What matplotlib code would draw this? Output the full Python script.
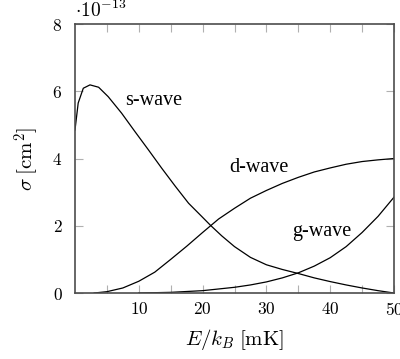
import matplotlib.pyplot as plt
import numpy as np

plt.rcParams['mathtext.fontset'] = 'cm'
plt.rcParams['font.family'] = 'serif'
plt.rcParams['font.serif'] = ['cmr10', 'DejaVu Serif']
plt.rcParams['axes.formatter.use_mathtext'] = True

# cross sections in units of 1e-13 cm^2 against E/k_B in mK
s_E = [0.0, 0.5, 1.3, 2.35, 3.7, 5.2, 7.3, 9.4, 11.5, 13.6, 15.7, 17.8, 19.9,
       21.2, 23.0, 25.0, 27.5, 30.0, 32.5, 35.0, 37.5, 40.0, 42.5, 45.0, 47.5, 50.0]
s_wave = [4.85, 5.65, 6.09, 6.19, 6.12, 5.84, 5.35, 4.8, 4.26, 3.71, 3.18, 2.67, 2.27,
          2.02, 1.7, 1.38, 1.06, 0.84, 0.7, 0.58, 0.45, 0.34, 0.24, 0.15, 0.07, 0.0]

d_E = [3.0, 5.0, 7.5, 10.0, 12.5, 15.0, 17.5, 20.0, 22.5, 25.0, 27.5, 30.0,
       32.5, 35.0, 37.5, 40.0, 42.5, 45.0, 47.5, 50.0]
d_wave = [0.0, 0.04, 0.15, 0.35, 0.62, 1.0, 1.39, 1.8, 2.2, 2.52, 2.82, 3.05,
          3.26, 3.44, 3.6, 3.72, 3.83, 3.91, 3.96, 4.0]

g_E = [10.0, 15.0, 20.0, 25.0, 27.5, 30.0, 32.5, 35.0, 37.5, 40.0, 42.5, 45.0, 47.5, 50.0]
g_wave = [0.0, 0.02, 0.07, 0.17, 0.24, 0.33, 0.45, 0.6, 0.8, 1.05, 1.38, 1.8, 2.28, 2.85]

fig = plt.figure(figsize=(4.0, 3.59), dpi=100)
ax = fig.add_axes([0.1875, 0.1838, 0.7975, 0.7493])

for E, sig in ((s_E, s_wave), (d_E, d_wave), (g_E, g_wave)):
    ax.plot(E, sig, color='black', lw=0.9)

lab_font = dict(family=['Liberation Serif'], fontsize=14.5, va='center', ha='left')
ax.text(7.8, 5.74, 's-wave', **lab_font)
ax.text(24.2, 3.72, 'd-wave', **lab_font)
ax.text(34.0, 1.82, 'g-wave', **lab_font)

ax.set_xlim(0, 50)
ax.set_ylim(0, 8)
ax.set_xticks([10, 20, 30, 40, 50])
ax.set_xticks([5, 15, 25, 35, 45], minor=True)
ax.set_yticks([0, 2, 4, 6, 8])
ax.set_xticklabels([f'${v}$' for v in [10, 20, 30, 40, 50]])
ax.set_yticklabels([f'${v}$' for v in [0, 2, 4, 6, 8]])

ax.tick_params(which='both', direction='in', top=True, right=True,
               length=6, width=0.8, color='#b0b0b0', labelsize=12.5)
ax.tick_params(axis='y', pad=9)
ax.tick_params(axis='x', pad=6)
for sp in ax.spines.values():
    sp.set_color('#4d4d4d')
    sp.set_linewidth(1.2)

ax.text(0.0, 1.01, r'$\cdot 10^{-13}$', transform=ax.transAxes,
        fontsize=14, ha='left', va='bottom')

ax.set_xlabel(r'$E/k_B\;[\mathrm{mK}]$', fontsize=15, labelpad=6)
ax.set_ylabel(r'$\sigma\;[\mathrm{cm}^2]$', fontsize=15, labelpad=8)

fig.savefig('out.png', dpi=100)
